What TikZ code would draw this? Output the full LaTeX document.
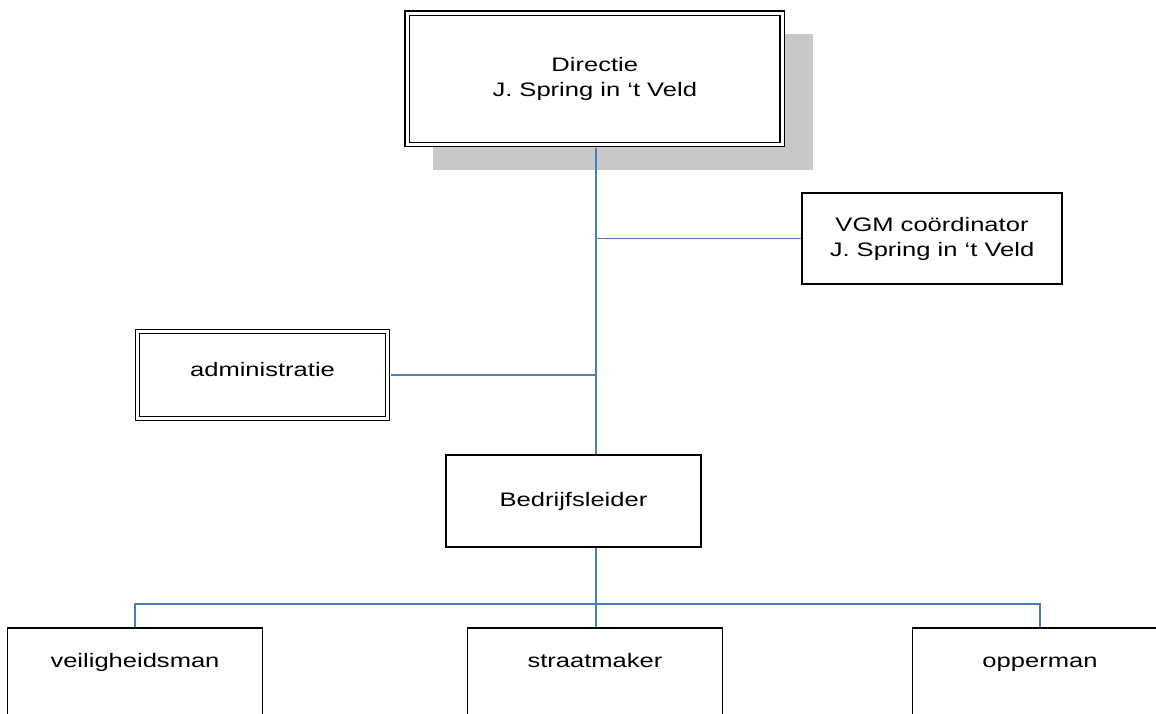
\documentclass[tikz,border=0pt]{standalone}
\usepackage{fontspec}
\setmainfont[FakeStretch=1.31]{Liberation Sans}
\usetikzlibrary{shadows}
\definecolor{linkblue}{HTML}{4A7EBB}
\definecolor{shadowgray}{HTML}{C8C8C8}
\begin{document}
\begin{tikzpicture}[x=1pt,y=-1pt,
  font=\fontsize{19.5}{25}\selectfont,
  box/.style={draw, line width=1.6pt, fill=white, align=center, inner sep=0pt},
  dbox/.style={box, double, line width=1.4pt, double distance=3pt},
  link/.style={draw=linkblue, line width=1.5pt}]
\useasboundingbox (0,0) rectangle (1156,713);
\clip (0,0) rectangle (1156,713);
% boxes
\node[dbox, minimum width=375pt, minimum height=131.5pt,
  general shadow={fill=shadowgray, draw=shadowgray, line width=5pt, shadow xshift=28pt, shadow yshift=-23pt}]
  (dir) at (594.75,78.75) {Directie\\J. Spring in ‘t Veld};
\node[box, minimum width=260pt, minimum height=91pt] (vgm) at (932,238.5) {VGM coördinator\\J. Spring in ‘t Veld};
\node[dbox, minimum width=250pt, minimum height=87pt, text depth=12pt] (adm) at (262.5,375) {administratie};
\node[box, minimum width=255pt, minimum height=92pt] (bed) at (573.5,501) {Bedrijfsleider};
\foreach \name/\x/\txt in {vei/135/veiligheidsman, str/595/straatmaker, opp/1040/opperman}
  \node[box, anchor=north, minimum width=255pt, text height=14pt, text depth=100pt, inner ysep=26pt]
    (\name) at (\x,627) {\txt};
% connectors
\coordinate (trunk) at (596,0);
\coordinate (bus) at (0,604);
\draw[link, shorten <=2.5pt] (dir.south -| trunk) -- (bed.north -| trunk);
\draw[link] (vgm.west -| trunk) -- (vgm.west);
\draw[link, shorten <=2.5pt] (adm.east) -- (adm.east -| trunk);
\draw[link] (bed.south -| trunk) -- (str.north -| trunk);
\draw[link] (vei.north) -- (vei.north |- bus) -- (opp.north |- bus) -- (opp.north);
\end{tikzpicture}
\end{document}
